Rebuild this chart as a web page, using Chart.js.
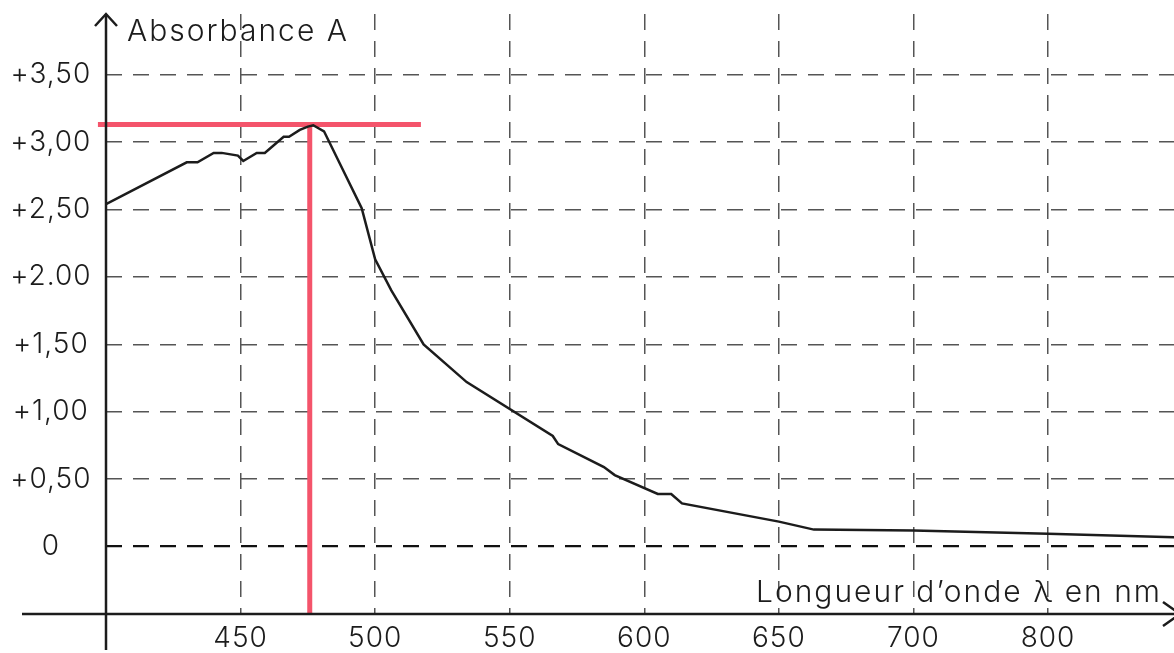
<!DOCTYPE html>
<html>
<head>
<meta charset="utf-8">
<script src="https://cdn.jsdelivr.net/npm/chart.js@4.4.1/dist/chart.umd.min.js"></script>
<style>
  html, body { margin: 0; padding: 0; background: #fff; }
  #wrap { width: 1174px; height: 653px; position: relative; }
</style>
</head>
<body>
<div id="wrap"><canvas id="spectre"></canvas></div>
<script>
// wavelength (nm) and absorbance
const wavelengths = [400, 430, 434, 440, 443, 449, 451, 456, 459, 466, 468, 472, 475, 477, 481,
  495, 500, 506, 518, 534, 566, 568, 585, 589, 605, 610, 614, 650, 663, 700, 800, 894];
const absorbance = [2.54, 2.85, 2.85, 2.92, 2.92, 2.90, 2.86, 2.92, 2.92, 3.04, 3.04, 3.09, 3.115, 3.125, 3.08,
  2.51, 2.13, 1.90, 1.50, 1.22, 0.82, 0.76, 0.59, 0.53, 0.39, 0.39, 0.32, 0.185, 0.126, 0.119, 0.096, 0.069];

const xTickValues = [450, 500, 550, 600, 650, 700, 800];
const yTickValues = [0, 0.5, 1, 1.5, 2, 2.5, 3, 3.5];
const yTickLabels = ['0', '+0,50', '+1,00', '+1,50', '+2.00', '+2,50', '+3,00', '+3,50'];

// lambda max marker
const lambdaMax = 475.7;
const aMax = 3.13;
const markerLeft = 397;
const markerRight = 517;

// the graduation after 700 jumps straight to 800 (same spacing)
const axisPos = nm => nm <= 700 ? nm : 700 + (nm - 700) / 2;

const FONT = 'Inter, "Open Sans", Lato, sans-serif';
const INK = '#1c1c1c';
const RED = '#f4546b';

const curve = wavelengths.map((nm, i) => ({ x: axisPos(nm), y: absorbance[i] }));

const axesPlugin = {
  id: 'axesPlugin',
  beforeDraw(chart) {
    chart.ctx.letterSpacing = '1px';
  },
  afterDraw(chart) {
    const { ctx, chartArea } = chart;
    const left = chartArea.left, top = chartArea.top, bottom = chartArea.bottom;
    ctx.save();
    ctx.strokeStyle = INK;
    ctx.lineWidth = 2.5;
    ctx.lineCap = 'butt';
    // y axis + arrow
    ctx.beginPath();
    ctx.moveTo(left, top);
    ctx.lineTo(left, bottom + 36);
    ctx.stroke();
    ctx.beginPath();
    ctx.moveTo(left - 11, top + 12);
    ctx.lineTo(left, top);
    ctx.lineTo(left + 11, top + 12);
    ctx.stroke();
    // x axis + arrow
    ctx.beginPath();
    ctx.moveTo(22, bottom);
    ctx.lineTo(chart.width + 10, bottom);
    ctx.stroke();
    ctx.beginPath();
    ctx.moveTo(chart.width - 11, bottom - 12);
    ctx.lineTo(chart.width + 6, bottom);
    ctx.lineTo(chart.width - 11, bottom + 12);
    ctx.stroke();
    // axis titles
    ctx.fillStyle = INK;
    ctx.font = '300 30px ' + FONT;
    ctx.letterSpacing = '2px';
    ctx.textBaseline = 'alphabetic';
    ctx.textAlign = 'left';
    ctx.fillText('Absorbance A', left + 21, top + 27);
    ctx.textAlign = 'right';
    ctx.fillText('Longueur d\u2019onde \u03bb en nm', 1162, bottom - 12);
    ctx.restore();
  }
};

new Chart(document.getElementById('spectre'), {
  type: 'line',
  data: {
    datasets: [
      {
        data: curve,
        borderColor: INK,
        borderWidth: 2.5,
        pointRadius: 0,
        tension: 0,
        fill: false
      },
      {
        data: [{ x: markerLeft, y: aMax }, { x: markerRight, y: aMax }],
        borderColor: RED,
        borderWidth: 5,
        pointRadius: 0,
        clip: false
      },
      {
        data: [{ x: lambdaMax, y: aMax }, { x: lambdaMax, y: -0.5 }],
        borderColor: RED,
        borderWidth: 5,
        pointRadius: 0,
        clip: false
      }
    ]
  },
  options: {
    responsive: true,
    maintainAspectRatio: false,
    animation: false,
    layout: { padding: { top: 14, right: 0, bottom: 0, left: 0 } },
    plugins: { legend: { display: false }, tooltip: { enabled: false } },
    scales: {
      x: {
        type: 'linear',
        min: 400,
        max: 796.8,
        afterFit: s => { s.height = 39; s.paddingLeft = 0; s.paddingRight = 0; },
        afterBuildTicks: s => { s.ticks = xTickValues.map(v => ({ value: axisPos(v) })); },
        border: { display: false, dash: [16, 11] },
        grid: { color: '#555', lineWidth: 1.5, drawTicks: false },
        ticks: {
          padding: 8,
          color: INK,
          font: { family: FONT, size: 28, weight: 300 },
          callback: (v, i) => String(xTickValues[i])
        }
      },
      y: {
        type: 'linear',
        min: -0.5,
        max: 3.95,
        afterFit: s => { s.width = 106; s.paddingTop = 0; s.paddingBottom = 0; },
        afterBuildTicks: s => { s.ticks = yTickValues.map(v => ({ value: v })); },
        border: { display: false, dash: [16, 11] },
        grid: {
          drawTicks: false,
          color: c => c.tick && c.tick.value === 0 ? '#111' : '#555',
          lineWidth: c => c.tick && c.tick.value === 0 ? 2.2 : 1.5
        },
        ticks: {
          padding: 17,
          crossAlign: 'center',
          color: INK,
          font: { family: FONT, size: 28, weight: 300 },
          callback: (v, i) => yTickLabels[i]
        }
      }
    }
  },
  plugins: [axesPlugin]
});
</script>
</body>
</html>
